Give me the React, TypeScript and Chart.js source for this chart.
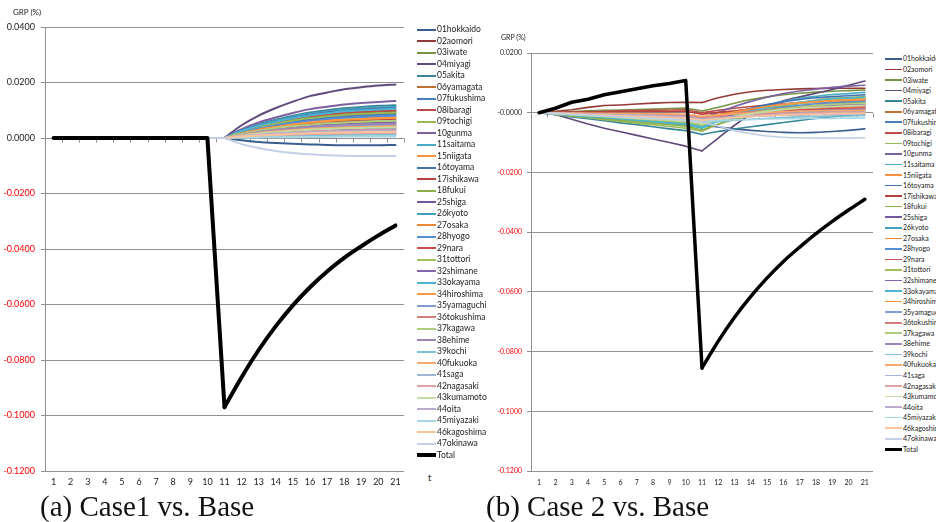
import React, { useEffect, useRef } from 'react';
import { Chart, registerables } from 'chart.js';

Chart.register(...registerables);

const tLabels = ['1', '2', '3', '4', '5', '6', '7', '8', '9', '10', '11', '12', '13', '14', '15', '16', '17', '18', '19', '20', '21'];

const prefNames = [
  '01hokkaido', '02aomori', '03iwate', '04miyagi', '05akita', '06yamagata', '07fukushima', '08ibaragi',
  '09tochigi', '10gunma', '11saitama', '15niigata', '16toyama', '17ishikawa', '18fukui', '25shiga',
  '26kyoto', '27osaka', '28hyogo', '29nara', '31tottori', '32shimane', '33okayama', '34hiroshima',
  '35yamaguchi', '36tokushima', '37kagawa', '38ehime', '39kochi', '40fukuoka', '41saga', '42nagasaki',
  '43kumamoto', '44oita', '45miyazaki', '46kagoshima', '47okinawa',
];

const prefColors = [
  '#3A5F8F', '#943B38', '#779443', '#60497B', '#388498', '#C0712F', '#4A7EBB', '#BE4B48',
  '#98B954', '#7D60A0', '#46AAC5', '#F69240', '#4472B0', '#B5423F', '#8DB04A', '#74579A',
  '#3FA0BB', '#EE8633', '#558ED5', '#C9504D', '#A0C05A', '#8466AC', '#4DB5D0', '#FF9741',
  '#7F9ECE', '#D17D7A', '#AECB7E', '#9B87B8', '#7BC3D6', '#F9A86B', '#A2B6DA', '#DDA4A3',
  '#C6DAA6', '#B9ABCE', '#A8D6E3', '#FBC39B', '#C3CFE6',
];

// Case 1 vs Base, values in units of 0.0001 %
const case1Pref = [
  [0,0,0,0,0,0,0,0,0,0,0,-8,-14,-18,-21,-23,-25,-26,-26,-26,-25],
  [0,0,0,0,0,0,0,0,0,0,0,23,40,53,65,74,81,86,90,93,95],
  [0,0,0,0,0,0,0,0,0,0,0,21,37,49,60,69,75,80,84,86,88],
  [0,0,0,0,0,0,0,0,0,0,0,46,81,108,131,151,164,176,183,189,193],
  [0,0,0,0,0,0,0,0,0,0,0,28,50,66,80,92,100,107,112,116,118],
  [0,0,0,0,0,0,0,0,0,0,0,17,29,39,48,55,60,64,67,69,70],
  [0,0,0,0,0,0,0,0,0,0,0,20,36,48,58,66,72,77,81,83,85],
  [0,0,0,0,0,0,0,0,0,0,0,24,42,56,68,78,85,91,95,98,100],
  [0,0,0,0,0,0,0,0,0,0,0,22,39,52,63,72,78,84,87,90,92],
  [0,0,0,0,0,0,0,0,0,0,0,32,56,74,90,104,113,121,126,130,133],
  [0,0,0,0,0,0,0,0,0,0,0,27,47,63,76,87,95,102,106,110,112],
  [0,0,0,0,0,0,0,0,0,0,0,18,32,42,51,59,64,68,71,74,75],
  [0,0,0,0,0,0,0,0,0,0,0,26,45,60,73,84,92,98,103,106,108],
  [0,0,0,0,0,0,0,0,0,0,0,16,27,36,44,51,55,59,62,64,65],
  [0,0,0,0,0,0,0,0,0,0,0,14,25,34,41,47,51,55,57,59,60],
  [0,0,0,0,0,0,0,0,0,0,0,13,23,31,37,43,47,50,52,54,55],
  [0,0,0,0,0,0,0,0,0,0,0,10,17,22,27,31,34,36,38,39,40],
  [0,0,0,0,0,0,0,0,0,0,0,11,19,25,31,35,38,41,43,44,45],
  [0,0,0,0,0,0,0,0,0,0,0,19,34,45,54,62,68,73,76,78,80],
  [0,0,0,0,0,0,0,0,0,0,0,5,8,11,14,16,17,18,19,20,20],
  [0,0,0,0,0,0,0,0,0,0,0,12,21,28,34,39,43,46,48,49,50],
  [0,0,0,0,0,0,0,0,0,0,0,8,15,20,24,27,30,32,33,34,35],
  [0,0,0,0,0,0,0,0,0,0,0,25,44,59,71,82,89,96,100,103,105],
  [0,0,0,0,0,0,0,0,0,0,0,17,30,40,49,56,61,66,68,71,72],
  [0,0,0,0,0,0,0,0,0,0,0,12,20,27,33,37,41,44,46,47,48],
  [0,0,0,0,0,0,0,0,0,0,0,7,13,17,20,23,26,27,29,29,30],
  [0,0,0,0,0,0,0,0,0,0,0,15,26,35,42,48,53,56,59,61,62],
  [0,0,0,0,0,0,0,0,0,0,0,12,22,29,35,41,44,47,49,51,52],
  [0,0,0,0,0,0,0,0,0,0,0,3,5,7,8,9,10,11,11,12,12],
  [0,0,0,0,0,0,0,0,0,0,0,10,18,24,29,33,36,38,40,41,42],
  [0,0,0,0,0,0,0,0,0,0,0,6,11,14,17,20,21,23,24,25,25],
  [0,0,0,0,0,0,0,0,0,0,0,4,8,10,12,14,15,16,17,18,18],
  [0,0,0,0,0,0,0,0,0,0,0,9,16,21,26,30,32,35,36,37,38],
  [0,0,0,0,0,0,0,0,0,0,0,7,12,16,19,22,24,25,27,27,28],
  [0,0,0,0,0,0,0,0,0,0,0,1,2,3,3,4,4,5,5,5,5],
  [0,0,0,0,0,0,0,0,0,0,0,5,9,12,15,17,19,20,21,22,22],
  [0,0,0,0,0,0,0,0,0,0,0,-22,-36,-47,-54,-59,-62,-64,-65,-65,-65],
];

const case1Total = [0, 0, 0, 0, 0, 0, 0, 0, 0, 0, -0.097, -0.0862, -0.0764, -0.0678, -0.0603, -0.0538, -0.0481, -0.0432, -0.039, -0.0351, -0.0315];

// Case 2 vs Base, values in units of 0.0001 %
const case2Pref = [
  [0,-2,-5,-8,-12,-16,-20,-25,-30,-35,-42,-48,-54,-59,-63,-66,-67,-66,-63,-59,-54],
  [0,5,10,18,24,26,29,32,34,35,34,50,62,70,75,78,80,81,82,82,82],
  [0,2,4,6,8,9,11,12,14,16,6,18,32,44,53,60,65,69,72,74,76],
  [0,-6,-22,-38,-52,-64,-76,-88,-100,-112,-128,-85,-42,-5,22,40,53,65,78,92,106],
  [0,-7,-14,-20,-27,-34,-40,-47,-54,-60,-73,-63,-55,-47,-40,-33,-26,-19,-13,-8,-3],
  [0,-2,-4,-7,-9,-11,-13,-16,-18,-20,-28,-16,-6,3,10,16,20,24,27,28,30],
  [0,-3,-7,-10,-13,-17,-20,-23,-27,-30,-40,-23,-8,5,15,24,31,36,40,42,45],
  [0,1,2,3,4,6,7,8,9,10,0,8,15,21,26,30,33,36,38,39,40],
  [0,-6,-12,-17,-23,-29,-35,-40,-46,-52,-62,-39,-18,0,14,26,35,42,48,51,55],
  [0,-2,-3,-5,-7,-8,-10,-12,-13,-15,-22,1,21,38,52,64,73,79,85,89,92],
  [0,-4,-9,-13,-18,-22,-27,-31,-36,-40,-52,-28,-6,12,26,38,48,55,61,64,68],
  [0,-1,-2,-3,-4,-6,-7,-8,-9,-10,-18,-6,5,14,21,27,32,35,38,40,42],
  [0,-3,-6,-8,-11,-14,-17,-19,-22,-25,-35,-16,1,15,27,36,44,50,54,57,60],
  [0,1,1,2,2,3,3,4,4,5,-5,1,6,11,15,18,20,22,23,24,25],
  [0,-5,-10,-15,-20,-25,-30,-35,-40,-45,-58,-39,-23,-9,2,12,19,25,29,32,35],
  [0,-2,-4,-6,-8,-10,-12,-14,-16,-18,-30,-20,-11,-3,3,8,12,15,17,19,20],
  [0,-2,-5,-7,-10,-12,-15,-17,-20,-22,-30,-22,-15,-9,-4,0,3,6,8,9,10],
  [0,-1,-2,-3,-4,-4,-5,-6,-7,-8,-15,-8,-2,2,6,10,12,14,16,17,18],
  [0,-3,-6,-9,-12,-16,-19,-22,-25,-28,-38,-23,-9,2,11,19,25,30,33,36,38],
  [0,-1,-3,-4,-5,-7,-8,-9,-11,-12,-20,-13,-7,-1,3,6,9,11,13,14,15],
  [0,-4,-8,-12,-16,-19,-23,-27,-31,-35,-45,-26,-10,4,15,25,32,38,42,45,48],
  [0,-2,-4,-7,-9,-11,-13,-16,-18,-20,-28,-17,-7,2,8,14,18,22,25,26,28],
  [0,-4,-8,-13,-17,-21,-25,-30,-34,-38,-48,-28,-10,5,17,27,35,41,46,49,52],
  [0,-2,-3,-5,-7,-8,-10,-12,-13,-15,-25,-11,2,12,21,28,33,37,41,43,45],
  [0,-2,-4,-6,-8,-10,-12,-14,-16,-18,-26,-20,-14,-10,-6,-3,0,2,3,4,5],
  [0,-1,-2,-3,-4,-6,-7,-8,-9,-10,-18,-10,-3,3,8,12,15,18,20,21,22],
  [0,-3,-7,-10,-13,-17,-20,-23,-27,-30,-40,-26,-13,-2,7,14,20,24,28,30,32],
  [0,-2,-5,-7,-10,-12,-15,-17,-20,-22,-32,-23,-15,-9,-3,1,5,7,9,11,12],
  [0,-3,-6,-8,-11,-14,-17,-19,-22,-25,-35,-30,-25,-22,-19,-16,-14,-13,-11,-11,-10],
  [0,-1,-1,-2,-2,-3,-3,-4,-4,-5,-12,-8,-4,-1,1,3,5,6,7,7,8],
  [0,-2,-4,-7,-9,-11,-13,-16,-18,-20,-28,-22,-17,-13,-10,-7,-5,-3,-2,-1,0],
  [0,-2,-3,-5,-7,-8,-10,-12,-13,-15,-22,-17,-13,-9,-6,-4,-2,-1,1,1,2],
  [0,-3,-6,-9,-12,-16,-19,-22,-25,-28,-36,-24,-13,-4,4,10,15,18,21,23,25],
  [0,-1,-3,-4,-5,-7,-8,-9,-11,-12,-20,-17,-14,-12,-10,-9,-8,-7,-6,-5,-5],
  [0,-2,-4,-7,-9,-11,-13,-16,-18,-20,-28,-26,-24,-23,-21,-20,-20,-19,-19,-18,-18],
  [0,-2,-4,-6,-8,-10,-12,-14,-16,-18,-25,-20,-16,-13,-10,-8,-6,-5,-3,-3,-2],
  [0,-3,-6,-8,-11,-14,-17,-19,-22,-25,-32,-45,-60,-70,-78,-82,-84,-85,-85,-85,-84],
];

const case2Total = [0, 0.0015, 0.0035, 0.0045, 0.006, 0.007, 0.008, 0.009, 0.0098, 0.0108, -0.0855, -0.0765, -0.0685, -0.0615, -0.0553, -0.0498, -0.045, -0.0405, -0.0364, -0.0326, -0.029];

const case1YRange = [-0.12, 0.04];
const case2YRange = [-0.12, 0.02];
const yStep = 0.02;
const shockIndex = 10; // t = 11, where lines change course

const GRID = '#8f8f8f';
const FONT = "Lato, 'Open Sans', sans-serif";

const zeroTicks = {
  id: 'zeroTicks',
  beforeDatasetsDraw(chart: any) {
    const { ctx, chartArea, scales } = chart;
    const y0 = Math.round(scales.y.getPixelForValue(0)) + 0.5;
    const n = chart.data.labels.length;
    const w = (chartArea.right - chartArea.left) / n;
    ctx.save();
    ctx.strokeStyle = GRID;
    ctx.lineWidth = 1;
    ctx.beginPath();
    for (let k = 1; k <= n; k++) {
      const x = Math.round(chartArea.left + k * w) + 0.5;
      ctx.moveTo(x, y0);
      ctx.lineTo(x, y0 + 4);
    }
    ctx.stroke();
    ctx.restore();
  },
};

type Geo = {
  yRange: number[];
  padTop: number;
  padRight: number;
  yWidth: number;
  xHeight: number;
  fontSize: number;
  yPad: number;
  xPad: number;
  lineW: number;
  totalW: number;
};

// one series is drawn as two pieces: straight up to the shock, smooth after it
function seriesPieces(label: string, values: number[], color: string, width: number, order: number) {
  const base = {
    label,
    borderColor: color,
    backgroundColor: color,
    borderWidth: width,
    pointRadius: 0,
    fill: false,
    spanGaps: false,
    borderCapStyle: 'round',
    borderJoinStyle: 'round',
    order,
  };
  return [
    { ...base, data: values.map((v, i) => (i <= shockIndex ? v : null)), tension: 0 },
    { ...base, data: values.map((v, i) => (i >= shockIndex ? v : null)), cubicInterpolationMode: 'monotone' },
  ];
}

function buildChart(canvas: HTMLCanvasElement, prefVals: number[][], totalVals: number[], g: Geo) {
  const datasets: any[] = [];
  prefNames.forEach((n, i) => {
    datasets.push(...seriesPieces(n, prefVals[i].map((v) => v / 10000), prefColors[i], g.lineW, 100 - i));
  });
  datasets.push(...seriesPieces('Total', totalVals, '#000000', g.totalW, 0));
  return new Chart(canvas, {
    type: 'line',
    data: { labels: tLabels, datasets },
    plugins: [zeroTicks],
    options: {
      animation: false,
      responsive: false,
      maintainAspectRatio: false,
      devicePixelRatio: 1,
      layout: { padding: { left: 0, top: g.padTop, right: g.padRight, bottom: 0 } },
      plugins: { legend: { display: false }, tooltip: { enabled: false } },
      scales: {
        x: {
          type: 'category',
          offset: true,
          grid: { display: false, drawTicks: false },
          border: { display: false },
          ticks: {
            color: '#222',
            font: { family: FONT, size: g.fontSize },
            padding: g.xPad,
            maxRotation: 0,
            autoSkip: false,
          },
          afterFit: (s: any) => {
            s.height = g.xHeight;
          },
        },
        y: {
          min: g.yRange[0],
          max: g.yRange[1],
          ticks: {
            stepSize: yStep,
            callback: (v: any) => Number(v).toFixed(4),
            color: (c: any) => (c.tick && c.tick.value < -1e-9 ? '#FF0000' : '#222'),
            font: { family: FONT, size: g.fontSize },
            padding: g.yPad,
          },
          grid: { color: GRID, tickLength: 4, drawTicks: true, lineWidth: 1 },
          border: { color: GRID },
          afterFit: (s: any) => {
            s.width = g.yWidth;
          },
        },
      },
    } as any,
  });
}

function Legend(props: { x: number; y: number; step: number; swatch: number; font: number; lineW: number; totalW: number }) {
  const { x, y, step, swatch, font, lineW, totalW } = props;
  const items = [...prefNames.map((n, i) => ({ n, c: prefColors[i], w: lineW })), { n: 'Total', c: '#000', w: totalW }];
  return (
    <>
      {items.map((it, i) => (
        <div
          key={it.n}
          style={{
            position: 'absolute',
            left: x,
            top: y + i * step - step / 2,
            height: step,
            display: 'flex',
            alignItems: 'center',
            whiteSpace: 'nowrap',
          }}
        >
          <div style={{ width: swatch, height: it.w, background: it.c }} />
          <span style={{ fontFamily: FONT, fontSize: font, color: '#222', marginLeft: 1, lineHeight: 1 }}>{it.n}</span>
        </div>
      ))}
    </>
  );
}

export default function App() {
  const leftRef = useRef<HTMLCanvasElement>(null);
  const rightRef = useRef<HTMLCanvasElement>(null);

  useEffect(() => {
    const c1 = buildChart(leftRef.current!, case1Pref, case1Total, {
      yRange: case1YRange,
      padTop: 27,
      padRight: 8,
      yWidth: 45,
      xHeight: 24,
      fontSize: 9,
      yPad: 6,
      xPad: 6,
      lineW: 2,
      totalW: 4,
    });
    const c2 = buildChart(rightRef.current!, case2Pref, case2Total, {
      yRange: case2YRange,
      padTop: 53,
      padRight: 8,
      yWidth: 43,
      xHeight: 24,
      fontSize: 7,
      yPad: 5,
      xPad: 8,
      lineW: 1.6,
      totalW: 3.5,
    });
    return () => {
      c1.destroy();
      c2.destroy();
    };
  }, []);

  return (
    <div style={{ position: 'absolute', left: 0, top: 0, width: 936, height: 522, overflow: 'hidden', background: '#fff' }}>
      <canvas ref={leftRef} width={412} height={495} style={{ position: 'absolute', left: 0, top: 0 }} />
      <canvas ref={rightRef} width={393} height={495} style={{ position: 'absolute', left: 488, top: 0 }} />
      <div style={{ position: 'absolute', left: 13, top: 7, fontFamily: FONT, fontSize: 8, color: '#222', whiteSpace: 'nowrap', lineHeight: '10px' }}>GRP (%)</div>
      <div style={{ position: 'absolute', left: 501, top: 32, fontFamily: FONT, fontSize: 7, color: '#222', whiteSpace: 'nowrap', lineHeight: '10px' }}>GRP (%)</div>
      <div style={{ position: 'absolute', left: 428, top: 472, fontFamily: FONT, fontSize: 9, color: '#222', lineHeight: '12px' }}>t</div>
      <Legend x={417} y={29.5} step={11.5} swatch={19} font={8.5} lineW={2} totalW={4} />
      <Legend x={885} y={59} step={10.55} swatch={17} font={7} lineW={1.6} totalW={3} />
      <div style={{ position: 'absolute', left: 40, top: 492, fontFamily: "'Liberation Serif', serif", fontSize: 29, lineHeight: '29px', color: '#111', whiteSpace: 'nowrap' }}>(a) Case1 vs. Base</div>
      <div style={{ position: 'absolute', left: 486, top: 492, fontFamily: "'Liberation Serif', serif", fontSize: 29, lineHeight: '29px', color: '#111', whiteSpace: 'nowrap' }}>(b) Case 2 vs. Base</div>
    </div>
  );
}
